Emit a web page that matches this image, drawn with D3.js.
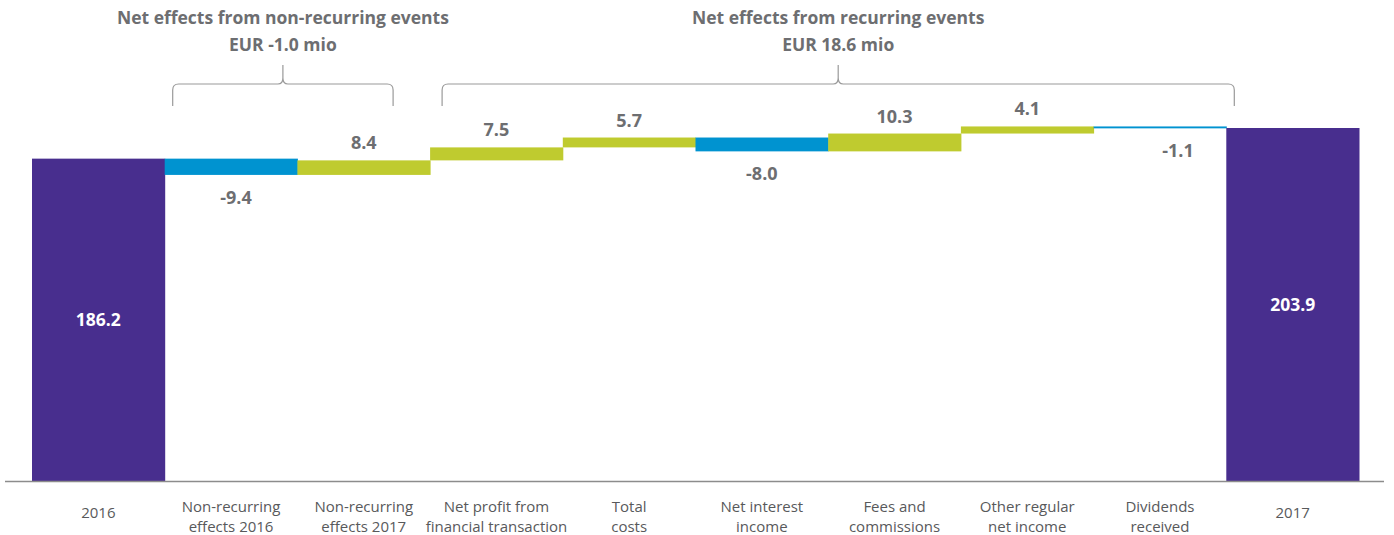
<!DOCTYPE html>
<html>
<head>
<meta charset="utf-8">
<script src="https://cdn.jsdelivr.net/npm/d3@7"></script>
<style>
  html, body { margin: 0; padding: 0; background: #fff; }
  svg { display: block; font-family: "Open Sans", "Noto Sans", sans-serif; }
</style>
</head>
<body>
<svg id="chart" width="1394" height="535"></svg>
<script>
// Categories (two-line axis labels) and waterfall values, EUR mio
const categories = ["2016", "Non-recurring effects 2016", "Non-recurring effects 2017",
  "Net profit from financial transaction", "Total costs", "Net interest income",
  "Fees and commissions", "Other regular net income", "Dividends received", "2017"];
const labelLines = [["2016"], ["Non-recurring", "effects 2016"], ["Non-recurring", "effects 2017"],
  ["Net profit from", "financial transaction"], ["Total", "costs"], ["Net interest", "income"],
  ["Fees and", "commissions"], ["Other regular", "net income"], ["Dividends", "received"], ["2017"]];
const startTotal = 186.2;
const endTotal = 203.9;
const deltas = [-9.4, 8.4, 7.5, 5.7, -8.0, 10.3, 4.1, -1.1];
const groups = [
  { title: "Net effects from non-recurring events", sub: "EUR -1.0 mio", from: 1, to: 2 },
  { title: "Net effects from recurring events", sub: "EUR 18.6 mio", from: 3, to: 8 }
];

const colors = { total: "#482e8e", up: "#bfcb2f", down: "#0093d0", text: "#6d6e71", axis: "#58595b" };

// Build waterfall segments
const rows = [];
rows.push({ cat: categories[0], y0: 0, y1: startTotal, value: startTotal, type: "total" });
let running = startTotal;
deltas.forEach((d, i) => {
  rows.push({ cat: categories[i + 1], y0: running, y1: running + d, value: d, type: d >= 0 ? "up" : "down" });
  running += d;
});
rows.push({ cat: categories[9], y0: 0, y1: endTotal, value: endTotal, type: "total" });

const svg = d3.select("#chart");
const x = d3.scaleBand().domain(categories).range([32, 1359]).padding(0);
const y = d3.scaleLinear().domain([0, 203.9]).range([481, 128]);
const bw = x.bandwidth();

// Bars
svg.append("g").selectAll("rect").data(rows).join("rect")
  .attr("x", d => x(d.cat))
  .attr("width", bw + 0.5)
  .attr("y", d => y(Math.max(d.y0, d.y1)))
  .attr("height", d => Math.max(1.8, Math.abs(y(d.y0) - y(d.y1))))
  .attr("fill", d => colors[d.type]);

// Baseline
svg.append("line").attr("x1", 5).attr("x2", 1384).attr("y1", y(0) + 0.5).attr("y2", y(0) + 0.5)
  .attr("stroke", "#8c8c8c").attr("stroke-width", 1.4);

// One decimal, plain hyphen for negatives
const fmt = v => v.toFixed(1);

// Value labels for deltas (the thin dividends step gets its label nudged right)
const deltaRows = rows.filter(d => d.type !== "total");
svg.append("g").selectAll("text").data(deltaRows).join("text")
  .attr("x", (d, i) => x(d.cat) + bw / 2 + (i === deltaRows.length - 1 ? 18 : (d.value < 0 && i === 0 ? 5 : 0)))
  .attr("y", d => d.value >= 0 ? y(Math.max(d.y0, d.y1)) - 11 : y(Math.min(d.y0, d.y1)) + 29)
  .attr("text-anchor", "middle")
  .attr("font-size", 18).attr("font-weight", 700).attr("fill", colors.text)
  .text(d => fmt(d.value));

// Totals inside purple bars
svg.append("g").selectAll("text").data(rows.filter(d => d.type === "total")).join("text")
  .attr("x", d => x(d.cat) + bw / 2)
  .attr("y", d => (y(d.y1) + y(0)) / 2 + 6)
  .attr("text-anchor", "middle")
  .attr("font-size", 17.5).attr("font-weight", 700).attr("fill", "#fff")
  .text(d => fmt(d.value));

// Category axis labels
const axisG = svg.append("g");
labelLines.forEach((lines, i) => {
  const cx = x(categories[i]) + bw / 2;
  const t = axisG.append("text").attr("x", cx).attr("text-anchor", "middle")
    .attr("font-size", 15).attr("fill", colors.axis);
  if (lines.length === 1) {
    t.attr("y", 518).text(lines[0]);
  } else {
    lines.forEach((l, k) => t.append("tspan").attr("x", cx).attr("y", 512 + k * 20).text(l));
  }
});

// Group brackets with titles
const bracketInset = [[8, -37], [12, 8]];
groups.forEach((g, gi) => {
  const left = x(categories[g.from]) + bracketInset[gi][0];
  const right = x(categories[g.to]) + bw + bracketInset[gi][1];
  const mid = (left + right) / 2;
  const top = 84, bottom = 106, r = 6;
  const path = `M${left},${bottom} V${top + r} Q${left},${top} ${left + r},${top} H${mid - 5} Q${mid},${top} ${mid},${top - 6} V65 M${mid},${top - 6} Q${mid},${top} ${mid + 5},${top} H${right - r} Q${right},${top} ${right},${top + r} V${bottom}`;
  svg.append("path").attr("d", path).attr("fill", "none").attr("stroke", "#9a9a9a").attr("stroke-width", 1.2);
  svg.append("text").attr("x", mid).attr("y", 24).attr("text-anchor", "middle")
    .attr("font-size", 17.5).attr("font-weight", 700).attr("fill", colors.text).text(g.title);
  svg.append("text").attr("x", mid).attr("y", 51).attr("text-anchor", "middle")
    .attr("font-size", 17.5).attr("font-weight", 700).attr("fill", colors.text).text(g.sub);
});
</script>
</body>
</html>
